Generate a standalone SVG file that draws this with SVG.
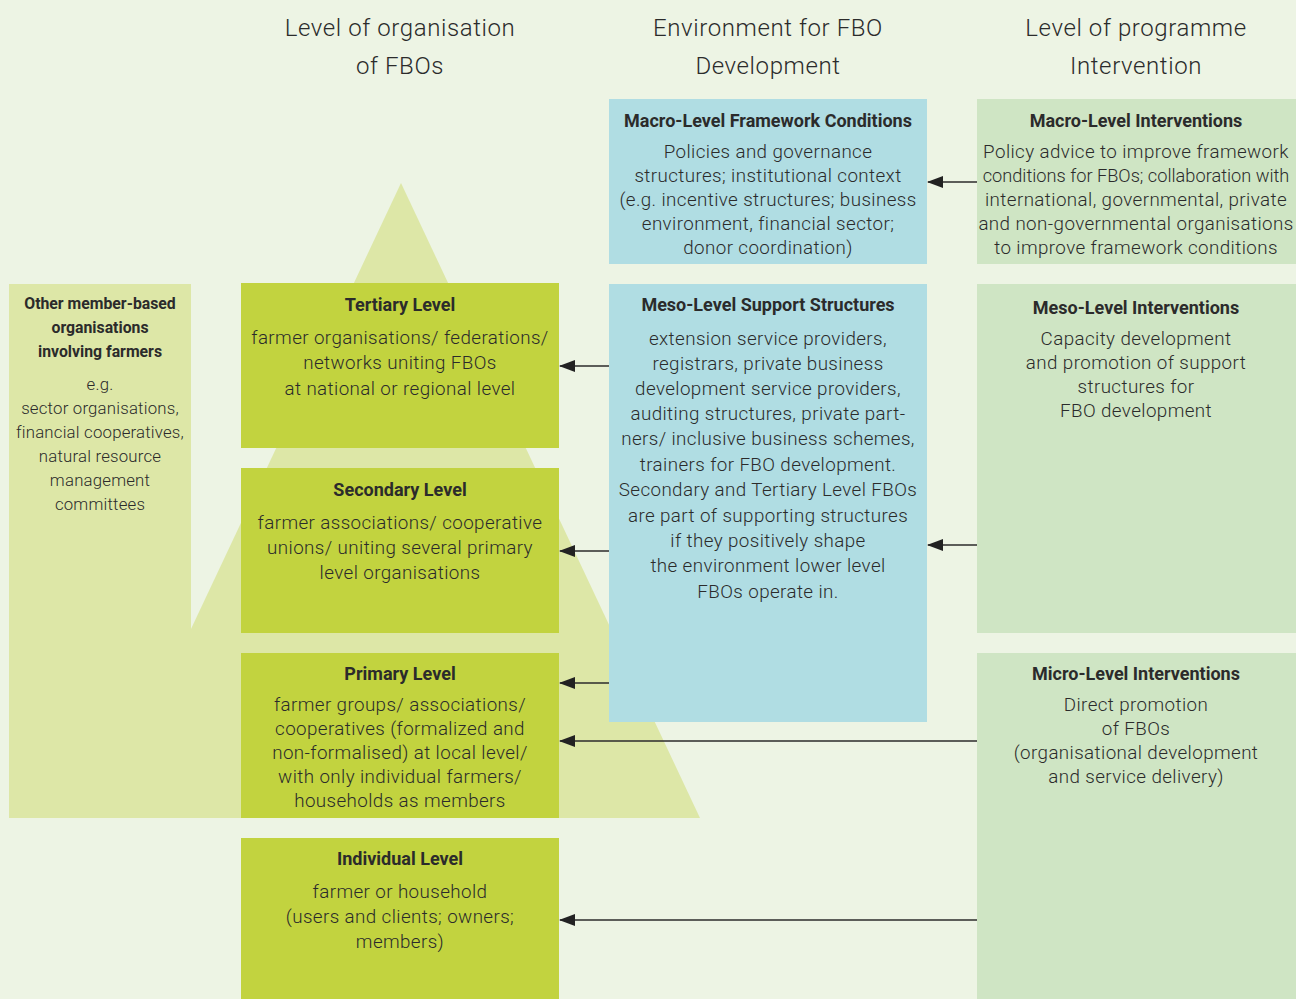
<svg xmlns="http://www.w3.org/2000/svg" width="1296" height="999" viewBox="0 0 1296 999">
<style>
.bg{fill:#edf4e4}
.lvl{fill:#c2d33f}
.env{fill:#b0dde3}
.prog{fill:#cfe5c4}
.other{fill:#dde7a7}
text{font-family:Roboto,"Liberation Sans",sans-serif;fill:#2b2b2b;text-anchor:middle}
.h{font-size:24px;font-weight:300;letter-spacing:0.6px}
.t{font-size:18px;font-weight:700}
.b{font-size:18.8px;font-weight:300;letter-spacing:0.4px}
.bn{font-size:18.2px;font-weight:300;letter-spacing:0px}
.ts{font-size:15.8px;font-weight:700}
.bs{font-size:16.8px;font-weight:300;letter-spacing:0.2px}
.con{stroke:#2b2b2b;stroke-width:1.5;fill:none;marker-end:url(#ah)}
</style>
<defs>
<marker id="ah" viewBox="0 0 16 12" refX="15" refY="6" markerWidth="16" markerHeight="12" markerUnits="userSpaceOnUse" orient="auto">
<path d="M0,0 L16,6 L0,12 Z" fill="#222"/>
</marker>
</defs>
<rect class="bg" x="0" y="0" width="1296" height="999"/>
<polygon id="pyramid" points="401,183 700,818 102,818" fill="#dde7a7"/>
<g id="headers">
<text class="h" x="400" y="36">Level of organisation</text>
<text class="h" x="400" y="74">of FBOs</text>
<text class="h" x="768" y="36">Environment for FBO</text>
<text class="h" x="768" y="74">Development</text>
<text class="h" x="1136" y="36">Level of programme</text>
<text class="h" x="1136" y="74">Intervention</text>
</g>
<g id="other">
<rect class="other" x="9" y="284" width="182" height="534"/>
<text class="ts" x="100" y="309">Other member-based</text>
<text class="ts" x="100" y="333">organisations</text>
<text class="ts" x="100" y="357">involving farmers</text>
<text class="bs" x="100" y="390">e.g.</text>
<text class="bs" x="100" y="414">sector organisations,</text>
<text class="bs" x="100" y="438">financial cooperatives,</text>
<text class="bs" x="100" y="462">natural resource</text>
<text class="bs" x="100" y="486">management</text>
<text class="bs" x="100" y="510">committees</text>
</g>
<g id="tertiary">
<rect class="lvl" x="241" y="283" width="318" height="165"/>
<text class="t" x="400" y="311">Tertiary Level</text>
<text class="b" x="400" y="344">farmer organisations/ federations/</text>
<text class="b" x="400" y="369">networks uniting FBOs</text>
<text class="b" x="400" y="395">at national or regional level</text>
</g>
<g id="secondary">
<rect class="lvl" x="241" y="468" width="318" height="165"/>
<text class="t" x="400" y="496">Secondary Level</text>
<text class="b" x="400" y="529">farmer associations/ cooperative</text>
<text class="b" x="400" y="554">unions/ uniting several primary</text>
<text class="b" x="400" y="579">level organisations</text>
</g>
<g id="primary">
<rect class="lvl" x="241" y="653" width="318" height="165"/>
<text class="t" x="400" y="680">Primary Level</text>
<text class="b" x="400" y="711">farmer groups/ associations/</text>
<text class="b" x="400" y="735">cooperatives (formalized and</text>
<text class="b" x="400" y="759">non-formalised) at local level/</text>
<text class="b" x="400" y="783">with only individual farmers/</text>
<text class="b" x="400" y="807">households as members</text>
</g>
<g id="individual">
<rect class="lvl" x="241" y="838" width="318" height="161"/>
<text class="t" x="400" y="865">Individual Level</text>
<text class="b" x="400" y="898">farmer or household</text>
<text class="b" x="400" y="923">(users and clients; owners;</text>
<text class="b" x="400" y="948">members)</text>
</g>
<g id="macro-env">
<rect class="env" x="609" y="99" width="318" height="165"/>
<text class="t" x="768" y="127">Macro-Level Framework Conditions</text>
<text class="b" x="768" y="158">Policies and governance</text>
<text class="b" x="768" y="182">structures; institutional context</text>
<text class="b" x="768" y="206">(e.g. incentive structures; business</text>
<text class="b" x="768" y="230">environment, financial sector;</text>
<text class="b" x="768" y="254">donor coordination)</text>
</g>
<g id="meso-env">
<rect class="env" x="609" y="284" width="318" height="438"/>
<text class="t" x="768" y="311">Meso-Level Support Structures</text>
<text class="b" x="768" y="345">extension service providers,</text>
<text class="b" x="768" y="370">registrars, private business</text>
<text class="b" x="768" y="395">development service providers,</text>
<text class="b" x="768" y="420">auditing structures, private part-</text>
<text class="b" x="768" y="445">ners/ inclusive business schemes,</text>
<text class="b" x="768" y="471">trainers for FBO development.</text>
<text class="b" x="768" y="496">Secondary and Tertiary Level FBOs</text>
<text class="b" x="768" y="522">are part of supporting structures</text>
<text class="b" x="768" y="547">if they positively shape</text>
<text class="b" x="768" y="572">the environment lower level</text>
<text class="b" x="768" y="598">FBOs operate in.</text>
</g>
<g id="macro-int">
<rect class="prog" x="977" y="99" width="319" height="165"/>
<text class="t" x="1136" y="127">Macro-Level Interventions</text>
<text class="b" x="1136" y="158">Policy advice to improve framework</text>
<text class="bn" x="1136" y="182">conditions for FBOs; collaboration with</text>
<text class="b" x="1136" y="206">international, governmental, private</text>
<text class="b" x="1136" y="230">and non-governmental organisations</text>
<text class="b" x="1136" y="254">to improve framework conditions</text>
</g>
<g id="meso-int">
<rect class="prog" x="977" y="284" width="319" height="349"/>
<text class="t" x="1136" y="314">Meso-Level Interventions</text>
<text class="b" x="1136" y="345">Capacity development</text>
<text class="b" x="1136" y="369">and promotion of support</text>
<text class="b" x="1136" y="393">structures for</text>
<text class="b" x="1136" y="417">FBO development</text>
</g>
<g id="micro-int">
<rect class="prog" x="977" y="653" width="319" height="346"/>
<text class="t" x="1136" y="680">Micro-Level Interventions</text>
<text class="b" x="1136" y="711">Direct promotion</text>
<text class="b" x="1136" y="735">of FBOs</text>
<text class="b" x="1136" y="759">(organisational development</text>
<text class="b" x="1136" y="783">and service delivery)</text>
</g>
<g id="connectors">
<line class="con" x1="977" y1="182" x2="928" y2="182"/>
<line class="con" x1="609" y1="366" x2="560" y2="366"/>
<line class="con" x1="609" y1="551" x2="560" y2="551"/>
<line class="con" x1="977" y1="545" x2="928" y2="545"/>
<line class="con" x1="609" y1="683" x2="560" y2="683"/>
<line class="con" x1="977" y1="741" x2="560" y2="741"/>
<line class="con" x1="977" y1="920" x2="560" y2="920"/>
</g>
</svg>
